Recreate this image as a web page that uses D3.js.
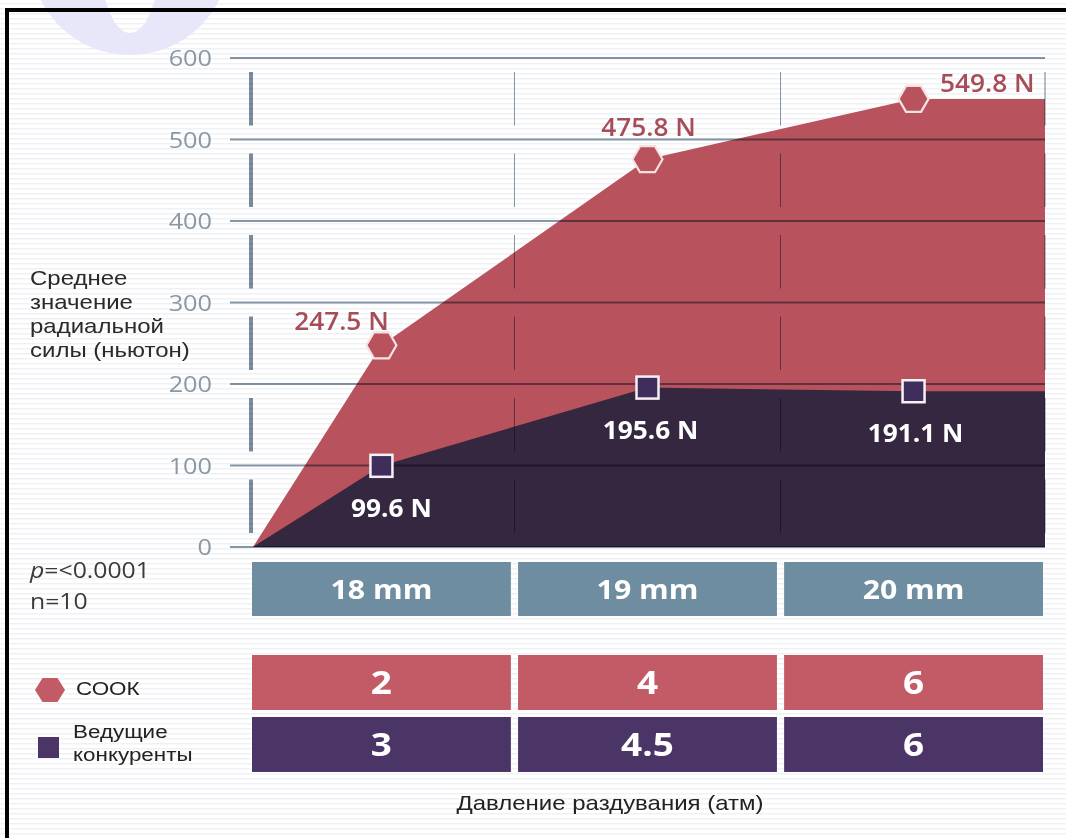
<!DOCTYPE html>
<html>
<head>
<meta charset="utf-8">
<script src="https://cdn.jsdelivr.net/npm/d3@7"></script>
<style>
  body { margin: 0; background: #fff; }
  svg { display: block; }
</style>
</head>
<body>
<script>
// data
var sizes = ['18 mm', '19 mm', '20 mm'];
var cookValues = [247.5, 475.8, 549.8];
var rivalValues = [99.6, 195.6, 191.1];
var cookPressure = ['2', '4', '6'];
var rivalPressure = ['3', '4.5', '6'];
var yTicks = [0, 100, 200, 300, 400, 500, 600];
var seriesNames = ['СООК', 'Ведущие конкуренты'];
var yTitle = ['Среднее', 'значение', 'радиальной', 'силы (ньютон)'];
var xTitle = 'Давление раздувания (атм)';
var pText = '<0.0001';
var nText = '10';

var W = 1066, H = 838;
var left = 252, right = 1045;

var red = '#b8535e', dark = '#35273f';
var redRow = '#c25b66', purpleRow = '#4b3566', blueRow = '#6f8da1';
var gridColor = '#8597a5';

var svg = d3.select('body').append('svg').attr('width', W).attr('height', H);

// faint scan-line texture of the scan
var pat = svg.append('defs').append('pattern')
  .attr('id', 'scan').attr('width', 8).attr('height', 5)
  .attr('patternUnits', 'userSpaceOnUse');
pat.append('rect').attr('width', 8).attr('height', 5).attr('fill', '#fff');
pat.append('rect').attr('y', 3).attr('width', 8).attr('height', 1.5).attr('fill', '#f0f1f5');
svg.append('rect').attr('width', W).attr('height', H).attr('fill', 'url(#scan)');

// watermark remains at the top left
svg.append('path')
  .attr('d', 'M30,-45a100,100 0 1,0 200,0a100,100 0 1,0 -200,0Z M100,-45a30,78 0 1,0 60,0a30,78 0 1,0 -60,0Z')
  .attr('fill', '#e8e7f9').attr('fill-rule', 'evenodd');

// frame
svg.append('path').attr('d', 'M7,' + H + 'V10H' + W)
  .attr('fill', 'none').attr('stroke', '#000').attr('stroke-width', 4);

var x = d3.scaleBand().domain(sizes).range([left, 1043]).paddingInner(0.027);
var y = d3.scaleLinear().domain([0, 600]).range([547, 58]);
function cx(d) { return x(d) + x.bandwidth() / 2; }

function txt(parent, px, py, str, o) {
  return parent.append('text')
    .attr('transform', 'translate(' + px + ',' + py + ') scale(' + (o.sx || 1) + ',1)')
    .attr('text-anchor', o.anchor || 'start')
    .attr('font-family', o.font || 'Liberation Sans, Arial, sans-serif')
    .attr('font-size', o.size)
    .attr('font-weight', o.weight || 400)
    .attr('fill', o.fill || '#222')
    .text(str);
}

// areas
var area = d3.area()
  .x(function (d) { return d.x; })
  .y0(y(0))
  .y1(function (d) { return y(d.v); });

function pts(vals) {
  var p = [{ x: left + 1, v: 0 }];
  sizes.forEach(function (s, i) { p.push({ x: cx(s), v: vals[i] }); });
  p.push({ x: right, v: vals[vals.length - 1] });
  return p;
}

svg.append('path').attr('d', area(pts(cookValues))).attr('fill', red);
svg.append('path').attr('d', area(pts(rivalValues))).attr('fill', dark);

// grid, multiplied over the areas
var grid = svg.append('g').style('mix-blend-mode', 'multiply');
grid.selectAll('line.h').data(yTicks).enter().append('line')
  .attr('x1', 230).attr('x2', right)
  .attr('y1', function (d) { return y(d); }).attr('y2', function (d) { return y(d); })
  .attr('stroke', gridColor).attr('stroke-width', 2);

var vx = [{ x: 251, w: 4 }, { x: (x(sizes[0]) + x.bandwidth() + x(sizes[1])) / 2, w: 1 },
          { x: (x(sizes[1]) + x.bandwidth() + x(sizes[2])) / 2, w: 1 }, { x: right, w: 1.2 }];
var segs = [];
vx.forEach(function (v) {
  for (var i = 0; i < yTicks.length - 1; i++) {
    segs.push({ x: v.x, w: v.w, y1: y(yTicks[i + 1]) + 14, y2: y(yTicks[i]) - 14 });
  }
});
grid.selectAll('line.v').data(segs).enter().append('line')
  .attr('x1', function (d) { return d.x; }).attr('x2', function (d) { return d.x; })
  .attr('y1', function (d) { return d.y1; }).attr('y2', function (d) { return d.y2; })
  .attr('stroke', function (d) { return d.w > 2 ? '#7b8c9c' : gridColor; })
  .attr('stroke-width', function (d) { return d.w; });

// y tick labels
yTicks.forEach(function (t) {
  txt(svg, 212, y(t) + 8, t, { anchor: 'end', font: 'Open Sans, sans-serif', size: 22, sx: 1.15, fill: '#8a98a4' });
});

// markers
function hexPath(r, h) {
  return 'M' + r + ',0L' + r / 2 + ',' + h + 'L' + (-r / 2) + ',' + h + 'L' + (-r) + ',0L' + (-r / 2) + ',' + (-h) + 'L' + r / 2 + ',' + (-h) + 'Z';
}
svg.selectAll('path.hex').data(cookValues).enter().append('path')
  .attr('d', hexPath(15, 13))
  .attr('transform', function (d, i) { return 'translate(' + cx(sizes[i]) + ',' + y(d) + ')'; })
  .attr('fill', red).attr('stroke', '#f6e2e2').attr('stroke-width', 2.2);

svg.selectAll('rect.sq').data(rivalValues).enter().append('rect')
  .attr('x', function (d, i) { return cx(sizes[i]) - 11; })
  .attr('y', function (d) { return y(d) - 11; })
  .attr('width', 22).attr('height', 22)
  .attr('fill', '#3f2d5c').attr('stroke', '#f4f0f6').attr('stroke-width', 2.5);

// value labels
var cookLabelPos = [{ dx: -40, dy: -15, a: 'middle' }, { dx: 1, dy: -23, a: 'middle' }, { dx: 121, dy: -7, a: 'end' }];
cookValues.forEach(function (v, i) {
  var p = cookLabelPos[i];
  txt(svg, cx(sizes[i]) + p.dx, y(v) + p.dy, v.toFixed(1) + ' N',
    { anchor: p.a, font: 'Open Sans, sans-serif', size: 25, weight: 600, fill: '#a64d58', sx: 1.05 });
});
var rivalLabelDx = [10, 3, 2];
rivalValues.forEach(function (v, i) {
  txt(svg, cx(sizes[i]) + rivalLabelDx[i], y(v) + 51, v.toFixed(1) + ' N',
    { anchor: 'middle', font: 'Open Sans, sans-serif', size: 25, weight: 700, fill: '#fff', sx: 1.05 });
});

// y title
yTitle.forEach(function (s, i) {
  txt(svg, 30, 285 + i * 24, s, { size: 20, sx: 1.2, fill: '#2a2a2a' });
});

// stats
var pt = svg.append('text').attr('transform', 'translate(30,578) scale(1.18,1)')
  .attr('font-family', 'Open Sans, sans-serif').attr('font-size', 21).attr('fill', '#3a3a3a');
pt.append('tspan').attr('font-style', 'italic').text('p');
pt.append('tspan').text('=' + pText);
txt(svg, 30, 609, 'n=' + nText, { font: 'Open Sans, sans-serif', size: 21, sx: 1.18, fill: '#3a3a3a' });

// table rows
var rows = [
  { y: 562, h: 54, fill: blueRow, labels: sizes, size: 27 },
  { y: 655, h: 55, fill: redRow, labels: cookPressure, size: 33 },
  { y: 717, h: 55, fill: purpleRow, labels: rivalPressure, size: 33 }
];
rows.forEach(function (r) {
  var g = svg.append('g');
  g.selectAll('rect').data(sizes).enter().append('rect')
    .attr('x', function (d) { return x(d); }).attr('y', r.y)
    .attr('width', x.bandwidth()).attr('height', r.h)
    .attr('fill', r.fill);
  sizes.forEach(function (s, i) {
    txt(g, cx(s), r.y + r.h / 2 + r.size * 0.36, r.labels[i],
      { anchor: 'middle', font: 'Open Sans, sans-serif', size: r.size, weight: 700, fill: '#fff', sx: 1.12 });
  });
});

// legend
svg.append('path').attr('d', hexPath(15, 12)).attr('transform', 'translate(50,690)').attr('fill', redRow);
txt(svg, 76, 695, seriesNames[0], { size: 19, sx: 1.18, fill: '#222' });
svg.append('rect').attr('x', 38).attr('y', 737).attr('width', 21).attr('height', 21).attr('fill', purpleRow);
var words = seriesNames[1].split(' ');
txt(svg, 73, 738, words[0], { size: 19, sx: 1.18, fill: '#222' });
txt(svg, 73, 761, words[1], { size: 19, sx: 1.18, fill: '#222' });

// x title
txt(svg, 610, 810, xTitle, { anchor: 'middle', size: 20, sx: 1.2, fill: '#222' });
</script>
</body>
</html>
